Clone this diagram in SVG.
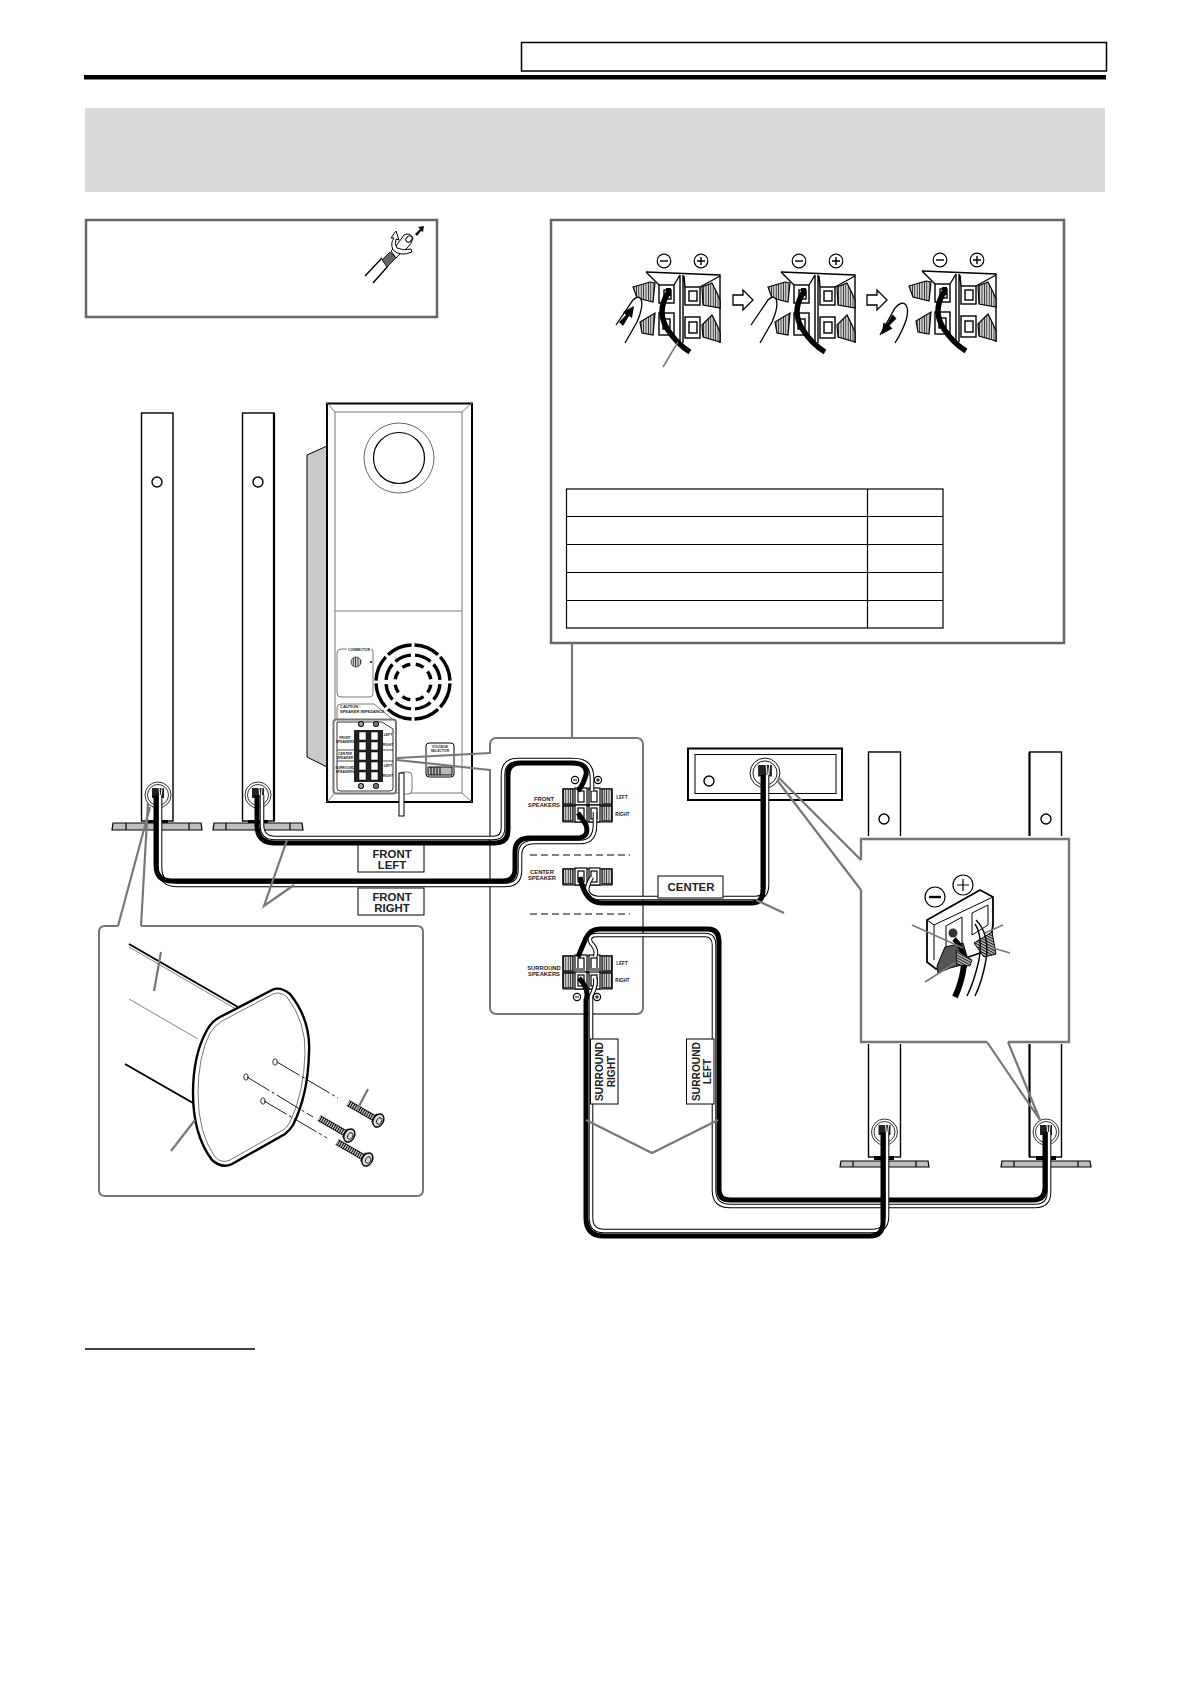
<svg xmlns="http://www.w3.org/2000/svg" xmlns:xlink="http://www.w3.org/1999/xlink" width="1192" height="1685" viewBox="0 0 1192 1685">
<style>
text{font-family:"Liberation Sans",Arial,sans-serif;font-weight:bold;fill:#222}
.lbl{font-size:11.4px;text-anchor:middle}
.lbr{font-size:10.2px;text-anchor:middle}
.tiny{font-size:5.8px;text-anchor:middle}
.mic{font-size:3.4px;text-anchor:middle}
.g{fill:none;stroke:#777;stroke-width:2.2}
.gt{fill:none;stroke:#777;stroke-width:1.5}
.k{fill:none;stroke:#000;stroke-width:1.4}
.sp{fill:#fff;stroke:#000;stroke-width:1.4}
.base{fill:#bfbfbf;stroke:#000;stroke-width:1.2}
.hat{fill:url(#hatch);stroke:#000;stroke-width:1.2}
.wo{fill:none;stroke:#000;stroke-width:4.6}
.wi{fill:none;stroke:#fff;stroke-width:2.6}
.bk{fill:none;stroke:#000;stroke-width:5}
.lb{fill:#fff;stroke:#000;stroke-width:1}
.sym{fill:#fff;stroke:#000;stroke-width:1.2}
</style>
<defs>
<pattern id="hatch" width="2.4" height="4" patternUnits="userSpaceOnUse"><rect width="2.4" height="4" fill="#d0d0d0"/><rect width="0.8" height="4" fill="#222"/></pattern>
<pattern id="hatch2" width="4" height="2.4" patternUnits="userSpaceOnUse" patternTransform="rotate(28)"><rect width="4" height="2.4" fill="#c4c4c4"/><rect width="4" height="1" fill="#111"/></pattern>
<g id="big">
<path d="M646,272 L720,275 V343 H646Z" fill="#fff"/>
<path d="M646,272 L720,275 V343" class="k" stroke-width="2"/>
<path d="M680,275 V343 M683,275 V343 M646,272 L659,285 M680,275 L674,285 M684,276 L685,287 M720,276 L700,287" class="k"/>
<rect x="659" y="285" width="15" height="18" class="k"/><rect x="664" y="290" width="7" height="9" class="k"/>
<rect x="659" y="313" width="15" height="22" class="k"/><rect x="663" y="319" width="7" height="10" class="k"/>
<rect x="685" y="287" width="15" height="18" class="k"/><rect x="689" y="291" width="8" height="10" class="k"/>
<rect x="685" y="317" width="15" height="21" class="k"/><rect x="689" y="322" width="8" height="11" class="k"/>
<path d="M702,287 L712,283 L717,293 L720,300 V308 L703,305Z" class="hat"/>
<path d="M702,325 L712,315 L717,325 L720,332 V342 L703,337Z" class="hat"/>
<path d="M633,287 L650,282 L655,283 L653,302 L637,298Z" class="hat"/>
<path d="M640,322 L655,313 L653,335 L642,333Z" class="hat"/>
<circle cx="664" cy="261" r="6.8" class="sym"/><path d="M660,261 H668" class="k" stroke-width="1.8"/>
<circle cx="701" cy="261" r="6.8" class="sym"/><path d="M697,261 H705 M701,257 V265" class="k" stroke-width="1.8"/>
<path d="M668,293 Q656,312 668,330 Q677,344 690,352" fill="none" stroke="#000" stroke-width="5.4"/>
<rect x="666" y="288" width="5" height="8" fill="#000"/>
</g>
<path id="finger" d="M616,325 L633,300 Q638,295 641,299 Q644,306 637,322 L625,343" fill="#fff" stroke="#000" stroke-width="1.3"/>
<path id="pusharrow" d="M619,322 L626,315 L623,312 L634,306 L632,318 L629,316 L623,326Z" fill="#000"/>
<path id="hollow" d="M733,295 H743 V290 L753,300 L743,310 V305 H733Z" fill="#fff" stroke="#000" stroke-width="1.3"/>
<g id="row">
<rect x="0" y="1" width="49" height="16" fill="#fff" stroke="#000" stroke-width="1"/>
<rect x="0" y="1" width="10" height="15" class="hat"/>
<rect x="39" y="1" width="10" height="15" class="hat"/>
<rect x="12" y="0" width="12" height="17" fill="#fff" stroke="#000" stroke-width="1.2"/>
<rect x="15" y="3" width="6" height="11" fill="#fff" stroke="#000" stroke-width="1.2"/>
<rect x="26" y="0" width="11" height="17" fill="#fff" stroke="#000" stroke-width="1.2"/>
<rect x="28" y="3" width="6" height="11" fill="#fff" stroke="#000" stroke-width="1.2"/>
</g>
<g id="jack">
<circle r="13" fill="#fff" stroke="#000" stroke-width=".8"/>
<circle r="10.5" fill="none" stroke="#000" stroke-width=".8"/>
<rect x="-6" y="-7" width="12" height="10" fill="#222"/>
<path d="M1,-7 L2,3 M4,-7 L3,3" stroke="#fff" stroke-width="1" fill="none"/>
</g>
<g id="ms"><circle r="2.4" class="sym" stroke-width=".7"/><path d="M-1.4,0 H1.4" stroke="#000" stroke-width=".7"/></g>
<g id="ps"><circle r="2.4" class="sym" stroke-width=".7"/><path d="M-1.4,0 H1.4 M0,-1.4 V1.4" stroke="#000" stroke-width=".7"/></g>
<g id="mn"><circle r="3.6" class="sym" stroke-width=".8"/><path d="M-2,0 H2" stroke="#000"/></g>
<g id="pl"><circle r="3.6" class="sym" stroke-width=".8"/><path d="M-2,0 H2 M0,-2 V2" stroke="#000"/></g>
<g id="screw">
<path d="M-30,0 H0" stroke="#000" stroke-width="6.4" fill="none"/>
<path d="M-30,0 H0" stroke="#ccc" stroke-width="4.6" stroke-dasharray="1.3 1" fill="none"/>
<rect x="0" y="-4.500" width="5" height="9" fill="#bbb" stroke="#000"/>
<ellipse cx="5" cy="0" rx="5" ry="7" fill="#ddd" stroke="#000" stroke-width="1.4"/>
<ellipse cx="6" cy="0" rx="2.500" ry="3.500" fill="none" stroke="#000" stroke-width=".8"/>
</g>
<path id="fl-w" d="M262,795 V825 Q262,838 275,838 H493 Q503,838 503,828 V775 Q503,760 518,760 H573 Q592,760 592,778 V791"/>
<path id="fr-w" d="M160,795 V868 Q160,885 178,885 H505 Q520,885 520,870 V855 Q520,842 534,842 H580 Q595,842 595,825 V812"/>
<path id="c-w" d="M592,877 Q580,896 598,898 H755 Q767,898 767,885 V775"/>
<path id="sl-w" d="M595,957 Q598,950 591,943 Q587,935 597,935 H705 Q714,935 714,945 V1190 Q714,1206 730,1206 H1035 Q1049,1206 1049,1192 V1132"/>
<path id="sr-w" d="M595,978 Q597,985 591,996 V1218 Q591,1231 604,1231 H872 Q887,1231 887,1216 V1132"/>
</defs>

<rect width="1192" height="1685" fill="#fff"/>

<g id="header">
<rect x="521.500" y="42.500" width="585" height="28.500" fill="#fff" stroke="#000" stroke-width="1.500"/>
<rect x="84" y="75" width="1022" height="4.500" fill="#000"/>
<rect x="85" y="108" width="1020" height="84" fill="#d9d9d9"/>
</g>

<g id="note-plug">
<rect x="86" y="220" width="351" height="97" fill="#fff" stroke="#666" stroke-width="2.500"/>
<path d="M365,276 L382,258 M373,283 L388,266" class="k" stroke-width="1"/>
<path d="M382,260 L390,252 L396,258 L387,267Z" fill="#666" stroke="#000" stroke-width=".8"/>
<path d="M391,251 L396,246 L404,235 Q410,232 413,238 Q412,244 406,249 L401,253 L396,258Z" fill="#fff" stroke="#000"/>
<ellipse cx="409" cy="239" rx="3.500" ry="2.600" transform="rotate(-45 409 239)" fill="#fff" stroke="#000"/>
<path d="M412,252 Q400,257 393,250 Q390,243 394,238 L391,238 L396,231 L399,240 L396,239 Q394,244 397,248 Q403,251 411,249Z" fill="#fff" stroke="#000"/>
<path d="M415,234 L420,229 L418,227 L424,226 L423,232 L421,231 L417,236Z" fill="#111"/>
</g>

<g id="terminal-box">
<rect x="551" y="220" width="513" height="423" fill="#fff" stroke="#666" stroke-width="2.500"/>
<use href="#big"/><use href="#finger"/><use href="#pusharrow"/>
<use href="#hollow"/>
<use href="#big" x="135"/><use href="#finger" x="135"/>
<use href="#hollow" x="134"/>
<use href="#big" x="276" y="-1"/>
<path d="M880,335 L895,308 Q902,300 906,305 Q912,315 895,343" fill="#fff" stroke="#000" stroke-width="1.300"/>
<use href="#pusharrow" transform="translate(889,325) rotate(180) translate(-626.5,-315.5)"/>
<path d="M678,342 L663,367" class="gt"/>
<g id="wire-table" fill="none" stroke="#000" stroke-width="1.200">
<rect x="566.500" y="489" width="376.500" height="139"/>
<path d="M867.500,489 V628 M566.500,516.500 H943 M566.500,544.500 H943 M566.500,572.500 H943 M566.500,600.500 H943"/>
</g>
</g>
<path d="M572,643 V738" class="g"/>

<g id="speaker-front-right">
<rect x="141.500" y="413" width="31.500" height="408" class="sp"/>
<circle cx="157" cy="482" r="5" class="sp"/>
<rect x="148" y="820" width="20" height="3" fill="#000"/>
<path d="M112,830 L113,823 H201 L202,830Z M126,823 V830 M189,823 V830" class="base"/>
<use href="#jack" x="158" y="795"/>
</g>
<g id="speaker-front-left">
<rect x="242.500" y="413" width="31.500" height="408" class="sp"/>
<path d="M274,413 V821" stroke="#000" stroke-width="2.200"/>
<circle cx="258" cy="482" r="5" class="sp"/>
<rect x="248" y="820" width="20" height="3" fill="#000"/>
<path d="M213,830 L214,823 H302 L303,830Z M226,823 V830 M290,823 V830" class="base"/>
<use href="#jack" x="258" y="795"/>
</g>

<g id="subwoofer">
<path d="M307,455 L327,446 V767 L307,757Z" fill="#c9c9c9" stroke="#000" stroke-width="1"/>
<rect x="327" y="403.500" width="145" height="398.500" fill="#fff" stroke="#000" stroke-width="2"/>
<rect x="335" y="412" width="127" height="381" fill="#fff" stroke="#777" stroke-width="1"/>
<path d="M327,403 L335,412 M472,403 L462,412 M327,802 L335,793 M472,802 L462,793 M335,611 H462" stroke="#777" fill="none"/>
<circle cx="399" cy="458" r="35" fill="none" stroke="#555" stroke-width=".9"/>
<circle cx="399" cy="458" r="25.500" fill="none" stroke="#000" stroke-width="1.200"/>
<g fill="none" stroke="#000" stroke-width="3.400">
<circle cx="413" cy="682" r="37" pathLength="80" stroke-dasharray="9 1" stroke-dashoffset="-0.5"/>
<circle cx="413" cy="682" r="27" pathLength="80" stroke-dasharray="8 2" stroke-dashoffset="-1"/>
<circle cx="413" cy="682" r="18" pathLength="80" stroke-dasharray="6 4" stroke-dashoffset="-2"/>
</g>
<path d="M341,649 H347 M371,649 Q373,649 373,652 V693 Q373,697 370,697 H341 Q337,697 337,693 V653 Q337,649 341,649" fill="none" stroke="#555" stroke-width=".8"/>
<text x="359" y="651" class="mic">CONNECTOR</text>
<circle cx="356" cy="662" r="5" fill="url(#hatch)" stroke="#000" stroke-width=".6"/>
<circle cx="371" cy="662" r="1" fill="#000"/>
<path d="M337,722 V708 Q337,704 341,704 H374 L396,722" fill="none" stroke="#555" stroke-width=".8"/>
<text x="340" y="708" class="mic" style="text-anchor:start;font-size:4px">CAUTION :</text>
<text x="340" y="713" class="mic" style="text-anchor:start;font-size:4px">SPEAKER IMPEDANCE</text>
<rect x="333.500" y="719.500" width="62.500" height="74" rx="3" fill="#fff" stroke="#777" stroke-width="2"/>
<path d="M337,722 H382 L393,729 V788 Q393,791 390,791 H340 Q337,791 337,788Z" fill="#fff" stroke="#000" stroke-width=".8"/>
<path d="M337,750 H354 M337,761 H354 M383,750 H393 M383,761 H393" stroke="#000" stroke-width=".7"/>
<rect x="354" y="730" width="29" height="52" fill="#222"/>
<g fill="#fff" stroke="#000" stroke-width=".5">
<rect x="359" y="732" width="7" height="8"/><rect x="371" y="732" width="7" height="8"/>
<rect x="359" y="742" width="7" height="8"/><rect x="371" y="742" width="7" height="8"/>
<rect x="359" y="752" width="7" height="8"/><rect x="371" y="752" width="7" height="8"/>
<rect x="359" y="762" width="7" height="8"/><rect x="371" y="762" width="7" height="8"/>
<rect x="359" y="772" width="7" height="8"/><rect x="371" y="772" width="7" height="8"/>
</g>
<use href="#ms" x="361" y="724"/><use href="#ps" x="376" y="724"/>
<use href="#ms" x="361" y="786"/><use href="#ps" x="376" y="786"/>
<text x="345" y="739" class="mic">FRONT</text><text x="345" y="743" class="mic">SPEAKERS</text>
<text x="345" y="755" class="mic">CENTER</text><text x="345" y="759" class="mic">SPEAKER</text>
<text x="345" y="769" class="mic">SURROUND</text><text x="345" y="773" class="mic">SPEAKERS</text>
<text x="388" y="736" class="mic">LEFT</text><text x="388" y="746" class="mic">RIGHT</text>
<text x="388" y="767" class="mic">LEFT</text><text x="388" y="777" class="mic">RIGHT</text>
<rect x="426" y="743" width="28" height="34" rx="3" fill="#fff" stroke="#000" stroke-width="1"/>
<text x="440" y="748" class="mic">VOLTAGE</text><text x="440" y="752" class="mic">SELECTOR</text>
<rect x="428" y="767" width="24" height="8" fill="#bbb" stroke="#000"/>
<path d="M431,767 V775 M434,767 V775 M437,767 V775 M440,767 V775" stroke="#000"/>
<rect x="399" y="772" width="13" height="22" rx="4" fill="#fff" stroke="#777"/>
<rect x="399" y="773" width="5" height="43" fill="#fff" stroke="#000" stroke-width="1"/>
</g>

<g id="terminal-panel">
<rect x="490" y="738" width="153" height="276" rx="6" fill="#fff" stroke="#777" stroke-width="2"/>
<rect x="485" y="754" width="8" height="15" fill="#fff"/>
<path d="M530,855 H630 M530,914 H630" fill="none" stroke="#555" stroke-width="1.400" stroke-dasharray="7 4"/>
<use href="#row" x="563" y="788"/><use href="#row" x="563" y="805"/>
<use href="#row" x="563" y="868"/>
<use href="#row" x="563" y="955"/><use href="#row" x="563" y="972"/>
<rect x="575" y="968" width="10" height="4" fill="#777"/><rect x="589" y="968" width="10" height="4" fill="#777"/>
<use href="#mn" x="575" y="780"/><use href="#pl" x="598" y="780"/>
<use href="#mn" x="577" y="997"/><use href="#pl" x="597" y="997"/>
<text x="544" y="801" class="tiny">FRONT</text><text x="544" y="807" class="tiny">SPEAKERS</text>
<text x="542" y="874" class="tiny">CENTER</text><text x="542" y="880" class="tiny">SPEAKER</text>
<text x="544" y="970" class="tiny">SURROUND</text><text x="544" y="976" class="tiny">SPEAKERS</text>
<text x="622" y="799" class="tiny" style="font-size:4.6px">LEFT</text><text x="622.500" y="816" class="tiny" style="font-size:4.6px">RIGHT</text>
<text x="622" y="965" class="tiny" style="font-size:4.6px">LEFT</text><text x="622.500" y="982" class="tiny" style="font-size:4.6px">RIGHT</text>
</g>

<g id="speaker-center">
<rect x="688" y="748.500" width="154" height="51.500" fill="#fff" stroke="#000" stroke-width="2"/>
<rect x="695" y="754.500" width="141" height="39" fill="#fff" stroke="#000" stroke-width="1"/>
<circle cx="709" cy="781" r="5" class="sp"/>
<use href="#jack" x="765" y="773" transform="translate(765 773) scale(1.150) translate(-765 -773)"/>
</g>
<g id="speaker-surround-right">
<rect x="868.500" y="752" width="32" height="405" class="sp"/>
<circle cx="884" cy="819" r="5" class="sp"/>
<rect x="874" y="1156" width="20" height="4" fill="#000"/>
<path d="M840,1167 L841,1161 H928 L929,1167Z M853,1161 V1167 M916,1161 V1167" class="base"/>
<use href="#jack" x="884.500" y="1132"/>
</g>
<g id="speaker-surround-left">
<rect x="1029.500" y="752" width="32" height="405" class="sp"/>
<path d="M1029.500,752 V1157" stroke="#000" stroke-width="2"/>
<circle cx="1046" cy="819" r="5" class="sp"/>
<rect x="1036" y="1156" width="20" height="4" fill="#000"/>
<path d="M1001,1167 L1002,1161 H1090 L1091,1167Z M1014,1161 V1167 M1078,1161 V1167" class="base"/>
<use href="#jack" x="1046" y="1132"/>
</g>

<g id="connectors">
<use href="#fl-w" class="wo"/><use href="#fl-w" class="wi"/>
<path class="bk" d="M257,795 V825 Q257,843 275,843 H495 Q508,843 508,830 V775 Q508,763 520,763 H572 Q588,763 586,775 Q583,785 578,791"/>
<use href="#fr-w" class="wo"/><use href="#fr-w" class="wi"/>
<path class="bk" d="M156,795 V865 Q156,881 172,881 H503 Q515,881 515,869 V852 Q515,838 530,838 H576 Q590,838 586,825 Q582,818 578,813"/>
<use href="#c-w" class="wo"/><use href="#c-w" class="wi"/>
<path class="bk" d="M580,877 Q585,903 602,903 H752 Q763,903 763,890 V775"/>
<use href="#sl-w" class="wo"/><use href="#sl-w" class="wi"/>
<path class="bk" d="M578,957 Q583,945 586,938 Q590,929 600,929 H708 Q719,929 719,942 V1190 Q719,1200 730,1200 H1033 Q1045,1200 1045,1188 V1132"/>
<use href="#sr-w" class="wo"/><use href="#sr-w" class="wi"/>
<path class="bk" d="M579,978 Q590,990 586,1000 V1218 Q586,1236 604,1236 H870 Q883,1236 883,1222 V1132"/>
</g>

<g id="labels">
<rect x="358" y="845" width="66" height="27" class="lb"/>
<text x="392" y="857.500" class="lbl">FRONT</text><text x="392" y="869" class="lbl">LEFT</text>
<rect x="358" y="888" width="66" height="27" class="lb"/>
<text x="392" y="900.500" class="lbl">FRONT</text><text x="392" y="912" class="lbl">RIGHT</text>
<rect x="658" y="876" width="65" height="22" class="lb"/>
<text x="691" y="891" class="lbl">CENTER</text>
<rect x="590.500" y="1039" width="27.500" height="65" class="lb"/>
<text transform="translate(603 1071.500) rotate(-90)" class="lbr">SURROUND</text>
<text transform="translate(614.500 1071.500) rotate(-90)" class="lbr">RIGHT</text>
<rect x="686.500" y="1039" width="27.500" height="65" class="lb"/>
<text transform="translate(699.500 1071.500) rotate(-90)" class="lbr">SURROUND</text>
<text transform="translate(711 1071.500) rotate(-90)" class="lbr">LEFT</text>
</g>

<g id="leaders">
<path d="M397,758 L490,753 M397,760 L490,770" class="g"/>
<path d="M287,840 L264,906 L294,885" class="g"/>
<path d="M756,900 L784,913" class="g"/>
<path d="M586,1120 L652,1153 L718,1120" class="g"/>
</g>

<g id="inset-stand">
<path d="M118,926 L150,807 M141,926 L148,803" class="g"/>
<path d="M118,926 H105 Q99,926 99,932 V1190 Q99,1196 105,1196 H417 Q423,1196 423,1190 V932 Q423,926 417,926 H141" fill="#fff" stroke="#777" stroke-width="2"/>
<path d="M129,944 L238,1007 M125,1064 L193,1103" stroke="#000" stroke-width="2" fill="none"/>
<path d="M129,947 L236,1009 M129,999 L198,1039" stroke="#666" stroke-width=".8" fill="none"/>
<path d="M220,1017 L272,990 Q280,986 290,994 Q311,1020 309,1053 Q308,1095 293,1125 Q290,1130 285,1134 L232,1164 Q222,1169 212,1160 Q193,1135 193,1093 Q193,1055 207,1030 Q212,1021 220,1017Z" fill="#fff" stroke="#000" stroke-width="2.400"/>
<path d="M222,1021 L273,994 Q280,991 287,997 Q306,1022 305,1053 Q304,1093 290,1122 Q287,1128 283,1130 L230,1160 Q222,1164 215,1157 Q198,1133 198,1093 Q198,1057 210,1033 Q215,1025 222,1021Z" fill="none" stroke="#666" stroke-width=".9"/>
<g fill="#fff" stroke="#333" stroke-width="1"><ellipse cx="275" cy="1062" rx="2.200" ry="3.200"/><ellipse cx="246" cy="1077" rx="2.200" ry="3.200"/><ellipse cx="263" cy="1101" rx="2.200" ry="3.200"/></g>
<path d="M277,1062 L338,1098 M247,1077 L313,1117 M264,1101 L327,1138" stroke="#000" stroke-width=".9" stroke-dasharray="26 3 3 3" fill="none"/>
<use href="#screw" transform="translate(374 1118) rotate(30)"/>
<use href="#screw" transform="translate(345 1133) rotate(30)"/>
<use href="#screw" transform="translate(363 1157) rotate(30)"/>
<path d="M161,952 L154,991 M195,1120 L171,1151 M368,1089 L357,1110" class="g"/>
</g>

<g id="inset-terminal">
<rect x="862" y="836" width="210" height="208" fill="#fff"/>
<path d="M778,777 L861,860 M777,780 L861,890 M1040,1120 L987,1042 M1040,1120 L1008,1042" class="g"/>
<path d="M861,860 V839 H1069 V1042 H1008 M987,1042 H861 V890" fill="none" stroke="#777" stroke-width="2.400"/>
<circle cx="935" cy="897" r="10" class="sym"/><path d="M929,897 H941" stroke="#000" stroke-width="2.400"/>
<circle cx="963" cy="885" r="10" class="sym"/><path d="M957,885 H969 M963,879 V891" stroke="#000" stroke-width="1.200"/>
<path d="M927,920 L980,890 L993,897 V925 L989,950 L945,965 L936,969 L927,962Z" fill="#fff" stroke="#000" stroke-width="1.800" stroke-linejoin="round"/>
<path d="M927,920 L934,925 L993,897 M934,925 V960" fill="none" stroke="#000" stroke-width="1"/>
<path d="M946,926 L962,917 L962,945 L946,950Z M972,913 L988,905 L988,925 L972,935Z" fill="#fff" stroke="#000"/>
<circle cx="953" cy="933" r="4.500" fill="#333"/>
<path d="M945,947 L963,943 L969,963 L950,968 L938,973 L937,966Z" fill="#555" stroke="#000"/>
<path d="M974,943 L992,932 L996,954 L984,957Z" fill="url(#hatch2)" stroke="#000"/>
<path d="M954,939 Q966,950 964,968" stroke="#000" stroke-width="5" fill="none"/>
<path d="M956,950 L972,960 L970,966 L957,965Z" fill="url(#hatch2)" stroke="#000" stroke-width=".8"/>
<path d="M964,965 Q962,982 955,997" stroke="#000" stroke-width="6" fill="none"/>
<path d="M976,920 Q990,934 986,960 Q982,982 975,996 M975,924 Q983,936 979,960 Q974,982 967,996" stroke="#000" stroke-width="1.400" fill="none"/>
<path d="M912,925 L963,948 M1003,925 L985,933 M1010,953 L993,948 M925,982 L955,963" class="gt"/>
</g>

<path id="footnote-rule" d="M85,1349 H255" stroke="#000" stroke-width="1.400"/>
</svg>
